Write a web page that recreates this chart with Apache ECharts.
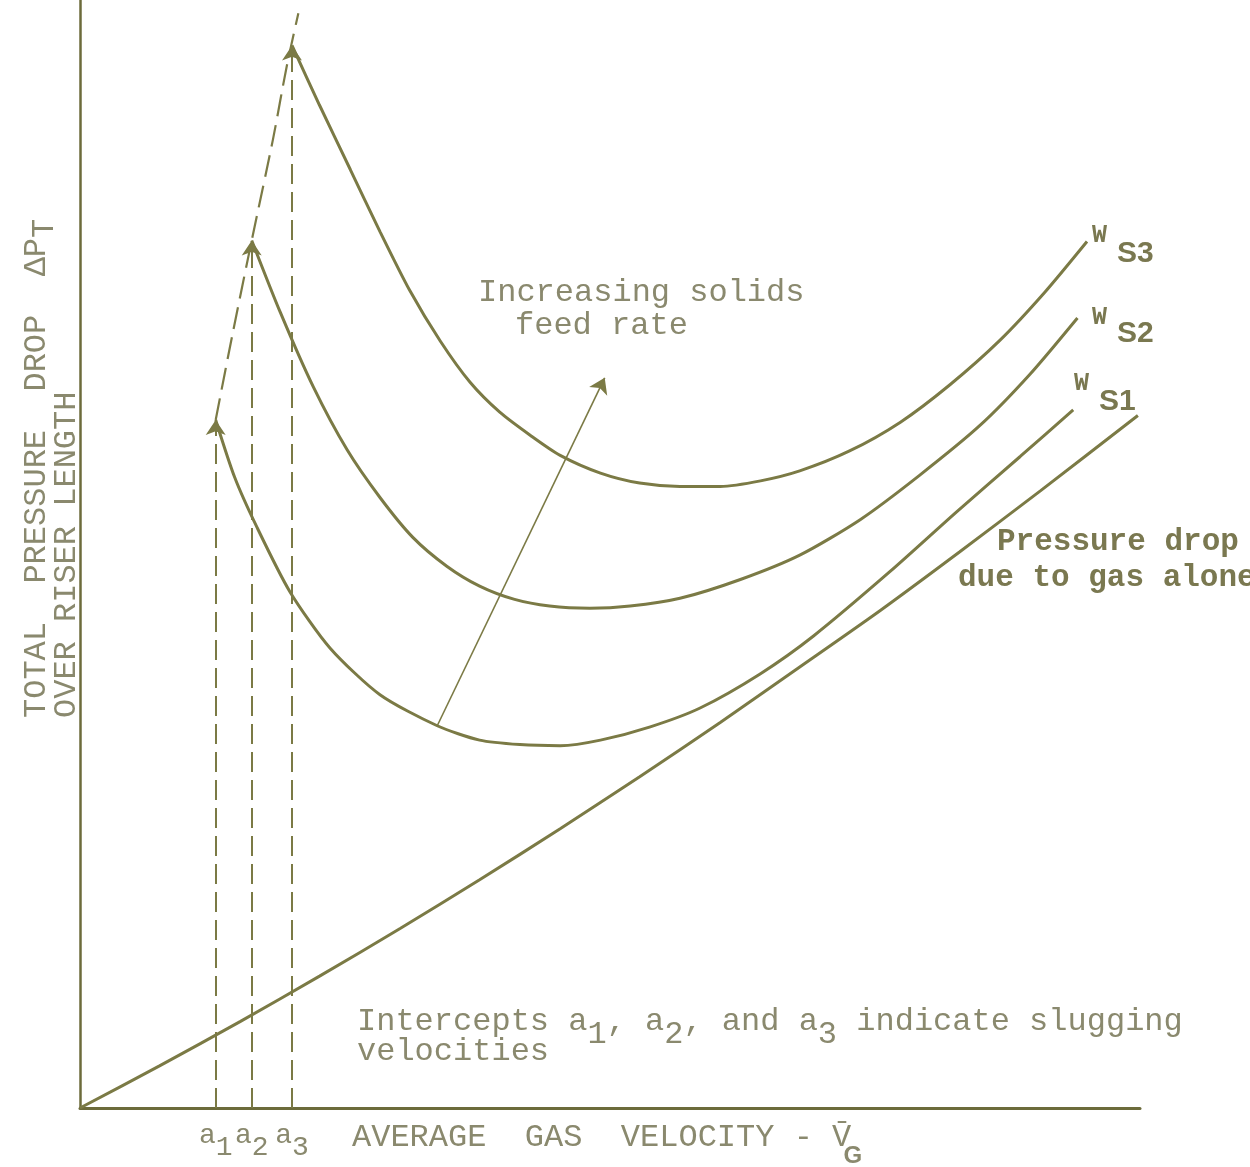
<!DOCTYPE html>
<html>
<head>
<meta charset="utf-8">
<script src="https://cdn.jsdelivr.net/npm/echarts@6/dist/echarts.min.js"></script>
<style>
  html, body { margin: 0; padding: 0; background: #ffffff; }
  #chart { width: 1250px; height: 1167px; }
</style>
</head>
<body>
<div id="chart"></div>
<script>
// Schematic: total pressure drop vs. average gas velocity (relative units, 0-100 on both axes)

// Pressure drop due to gas alone
const gasAlone = [[0, 0], [7.5, 3.8], [15.1, 7.8], [22.6, 11.9], [30.2, 16.2], [37.7, 20.6],
  [45.3, 25.2], [52.8, 29.9], [60.4, 34.8], [67.9, 39.8], [75.5, 44.9], [83.0, 50.2],
  [90.6, 55.7], [99.8, 62.5]];

// Solids feed rate W_S1 (lowest)
const ws1 = [[12.8, 62.1], [14.6, 56.9], [16.7, 52.4], [19.8, 46.6], [23.6, 41.5], [28.3, 37.3],
  [33.7, 34.5], [37.7, 33.2], [41.5, 32.8], [45.3, 32.7], [49.1, 33.2], [53.8, 34.4],
  [58.5, 36.1], [64.2, 39.2], [69.2, 42.6], [76.4, 48.4], [82.7, 53.8], [88.7, 58.8],
  [93.7, 63.0]];

// Solids feed rate W_S2
const ws2 = [[16.2, 78.3], [18.9, 71.8], [22.0, 65.1], [25.2, 59.4], [28.3, 55.1], [31.4, 51.5],
  [34.6, 48.9], [37.7, 47.1], [41.0, 45.9], [44.3, 45.3], [48.1, 45.1], [51.9, 45.3],
  [56.6, 46.0], [62.3, 47.7], [67.9, 49.9], [73.6, 53.1], [79.2, 57.1], [84.9, 61.6],
  [89.6, 66.2], [94.1, 71.3]];

// Solids feed rate W_S3 (highest)
const ws3 = [[20.0, 95.9], [22.6, 90.5], [25.5, 84.7], [28.3, 79.1], [31.1, 73.8], [34.0, 69.2],
  [36.8, 65.5], [39.6, 62.8], [42.5, 60.7], [45.3, 58.9], [49.1, 57.3], [52.8, 56.4],
  [56.6, 56.1], [60.4, 56.1], [64.2, 56.6], [67.9, 57.5], [72.6, 59.3], [77.4, 61.9],
  [82.1, 65.3], [86.8, 69.3], [91.0, 73.6], [95.0, 78.2]];

// Dashed envelope through the slugging points
const slugEnvelope = [[12.8, 62.1], [14.4, 69.9], [16.2, 78.3], [18.2, 87.4], [19.5, 94.0], [20.6, 98.8]];

// Slugging velocities a1, a2, a3 and the peak each arrow points to
const slugVelocities = [12.8, 16.2, 20.0];
const slugPeaks = [62.1, 78.3, 95.9];
const slugIndex = ['1', '2', '3'];

// "Increasing solids feed rate" arrow
const feedArrow = [[33.7, 34.5], [49.5, 65.9]];

const INK = '#7b7a45';
const AXIS_INK = '#6c6b3b';
const TYPE_INK = '#8a896e';
const LABEL_INK = '#7a7850';
const MONO = '"Liberation Mono", "DejaVu Sans Mono", monospace';
const PITCH = 19.2;

const chart = echarts.init(document.getElementById('chart'), null, { renderer: 'canvas' });

const curveStyle = { color: INK, width: 3 };

const markLines = slugVelocities.map((x, i) => [
  { coord: [x, 0], lineStyle: { type: [20, 8], width: 2, color: INK } },
  { coord: [x, slugPeaks[i]] }
]);
markLines.push([
  { coord: feedArrow[0], lineStyle: { type: 'solid', width: 1.6, color: INK } },
  { coord: feedArrow[1] }
]);

function typed(text, x, y, extra) {
  return Object.assign({
    type: 'text', x: x, y: y, silent: true,
    style: { text: text, font: '32px ' + MONO, fill: TYPE_INK, textAlign: 'left', textVerticalAlign: 'middle' }
  }, extra || {});
}

const graphics = [];
// Feed-rate annotation
graphics.push(typed('Increasing solids', 478, 293));
graphics.push(typed('feed rate', 515, 326));
// Slugging note with lowered indices
const noteX = 357;
graphics.push(typed('Intercepts a , a , and a  indicate slugging', noteX, 1022));
[12, 16, 24].forEach((col, i) => graphics.push(typed(slugIndex[i], noteX + col * PITCH, 1035)));
graphics.push(typed('velocities', noteX, 1052));
// Gas-only label
graphics.push({ type: 'text', x: 997, y: 542, silent: true,
  style: { text: 'Pressure drop', font: 'bold 31px ' + MONO, fill: LABEL_INK, textVerticalAlign: 'middle' } });
graphics.push({ type: 'text', x: 958, y: 578, silent: true,
  style: { text: 'due to gas alone', font: 'bold 31px ' + MONO, fill: LABEL_INK, textVerticalAlign: 'middle' } });
// Curve labels W_S1..W_S3
[[1092, 236, 1117, 254, '3'], [1092, 318, 1117, 334, '2'], [1074, 384, 1099, 402, '1']].forEach(p => {
  graphics.push({ type: 'text', x: p[0], y: p[1], silent: true,
    style: { text: 'W', font: 'bold 25px ' + MONO, fill: LABEL_INK, textVerticalAlign: 'middle' } });
  graphics.push({ type: 'text', x: p[2], y: p[3], silent: true,
    style: { text: 'S' + p[4], font: 'bold 30px "Liberation Sans", Arial, sans-serif', fill: LABEL_INK, textVerticalAlign: 'middle' } });
});
// X-axis title
graphics.push(typed('AVERAGE  GAS  VELOCITY - V\u0304', 352, 1138));
graphics.push({ type: 'text', x: 352 + 25.6 * PITCH, y: 1156, silent: true,
  style: { text: 'G', font: 'bold 24px "Liberation Sans", sans-serif', fill: TYPE_INK, textVerticalAlign: 'middle' } });
// Y-axis title (reads bottom to top)
graphics.push(typed('TOTAL  PRESSURE  DROP  \u0394P', 37, 718, { rotation: Math.PI / 2 }));
graphics.push(typed('T', 45, 718 - 25 * PITCH, { rotation: Math.PI / 2 }));
graphics.push(typed('OVER RISER LENGTH', 67, 718, { rotation: Math.PI / 2 }));

const curve = (name, data) => ({
  type: 'line', name: name, data: data, smooth: 0.25, showSymbol: false, lineStyle: curveStyle
});

chart.setOption({
  animation: false,
  backgroundColor: '#ffffff',
  grid: { left: 80, right: 110, top: 0, bottom: 59 },
  xAxis: {
    type: 'value', min: 0, max: 100,
    axisLine: { show: true, lineStyle: { color: AXIS_INK, width: 3 } },
    axisTick: { show: false },
    splitLine: { show: false },
    axisLabel: {
      show: true,
      customValues: slugVelocities,
      margin: 14,
      formatter: function (v) {
        const i = slugVelocities.indexOf(v);
        return i < 0 ? '' : '{a|a}{s|' + slugIndex[i] + '}';
      },
      rich: {
        a: { fontFamily: MONO, fontSize: 28, color: TYPE_INK, padding: [0, 0, 12, 0] },
        s: { fontFamily: MONO, fontSize: 28, color: TYPE_INK, padding: [12, 0, 0, 0] }
      }
    }
  },
  yAxis: {
    type: 'value', min: 0, max: 100,
    axisLine: { show: true, lineStyle: { color: AXIS_INK, width: 2.5 } },
    axisTick: { show: false },
    axisLabel: { show: false },
    splitLine: { show: false }
  },
  series: [
    Object.assign(curve('Gas alone', gasAlone), {
      markLine: {
        silent: true, symbol: ['none', 'arrow'], symbolSize: 15,
        label: { show: false }, emphasis: { disabled: true },
        data: markLines
      }
    }),
    curve('W_S1', ws1),
    curve('W_S2', ws2),
    curve('W_S3', ws3),
    { type: 'line', name: 'Slugging', data: slugEnvelope, smooth: 0.3, showSymbol: false,
      lineStyle: { color: INK, width: 2.2, type: [22, 9] } }
  ],
  graphic: graphics
});
</script>
</body>
</html>
